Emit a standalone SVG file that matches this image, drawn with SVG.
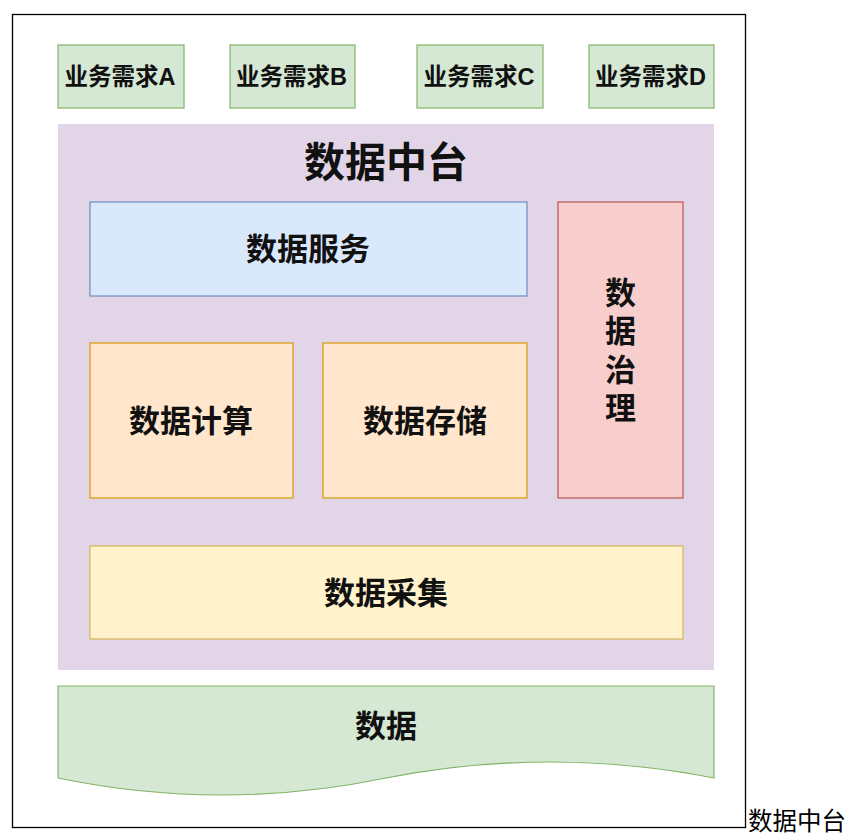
<svg xmlns="http://www.w3.org/2000/svg" width="856" height="836" viewBox="0 0 856 836">
<style>
.t{font-family:"Liberation Sans","Noto Sans CJK SC",sans-serif;font-weight:bold;fill:#111;text-anchor:middle;dominant-baseline:central}
.req rect{fill:#d5e8d4;stroke:#82b366;stroke-width:1.2}
.req text{font-size:23.5px}
.big{font-size:31px}
</style>
<rect width="856" height="836" fill="#ffffff"/>
<g id="frame"><rect x="12.5" y="14.5" width="733" height="813" fill="#ffffff" stroke="#000" stroke-width="1.3"/></g>
<g id="reqA" class="req"><rect x="58" y="45" width="126" height="63"/><text class="t" x="120" y="77">业务需求A</text></g>
<g id="reqB" class="req"><rect x="230" y="45" width="125" height="63"/><text class="t" x="291.5" y="77">业务需求B</text></g>
<g id="reqC" class="req"><rect x="417" y="45" width="126" height="63"/><text class="t" x="479" y="77">业务需求C</text></g>
<g id="reqD" class="req"><rect x="589" y="45" width="125" height="63"/><text class="t" x="650.5" y="77">业务需求D</text></g>
<g id="platform"><rect x="58" y="124" width="656" height="546" fill="#e1d5e7"/><text class="t" x="386" y="163" style="font-size:41px">数据中台</text></g>
<g id="service"><rect x="90" y="202" width="437" height="94" fill="#dae8fc" stroke="#6c8ebf" stroke-width="1.2"/><text class="t big" x="308" y="249">数据服务</text></g>
<g id="governance"><rect x="558" y="202" width="125" height="296" fill="#f8cecc" stroke="#b85450" stroke-width="1.2"/>
<text class="t big" x="620.5" y="293">数</text><text class="t big" x="620.5" y="331.5">据</text><text class="t big" x="620.5" y="370">治</text><text class="t big" x="620.5" y="408">理</text></g>
<g id="compute"><rect x="90" y="343" width="203" height="155" fill="#ffe6cc" stroke="#d79b00" stroke-width="1.2"/><text class="t big" x="191" y="421">数据计算</text></g>
<g id="storage"><rect x="323" y="343" width="204" height="155" fill="#ffe6cc" stroke="#d79b00" stroke-width="1.2"/><text class="t big" x="425" y="421">数据存储</text></g>
<g id="collect"><rect x="90" y="546" width="593" height="93" fill="#fff2cc" stroke="#d6b656" stroke-width="1.2"/><text class="t big" x="386" y="593">数据采集</text></g>
<g id="data"><path d="M58,686 H714 V778 Q550,746 386,778 Q222,812 58,778 Z" fill="#d5e8d4" stroke="#82b366" stroke-width="1.2"/><text class="t big" x="386" y="726">数据</text></g>
<g id="connectors"></g>
<text x="748" y="830" style="font-family:'Liberation Serif','Noto Sans CJK SC',serif;font-size:24.5px;fill:#000">数据中台</text>
</svg>
